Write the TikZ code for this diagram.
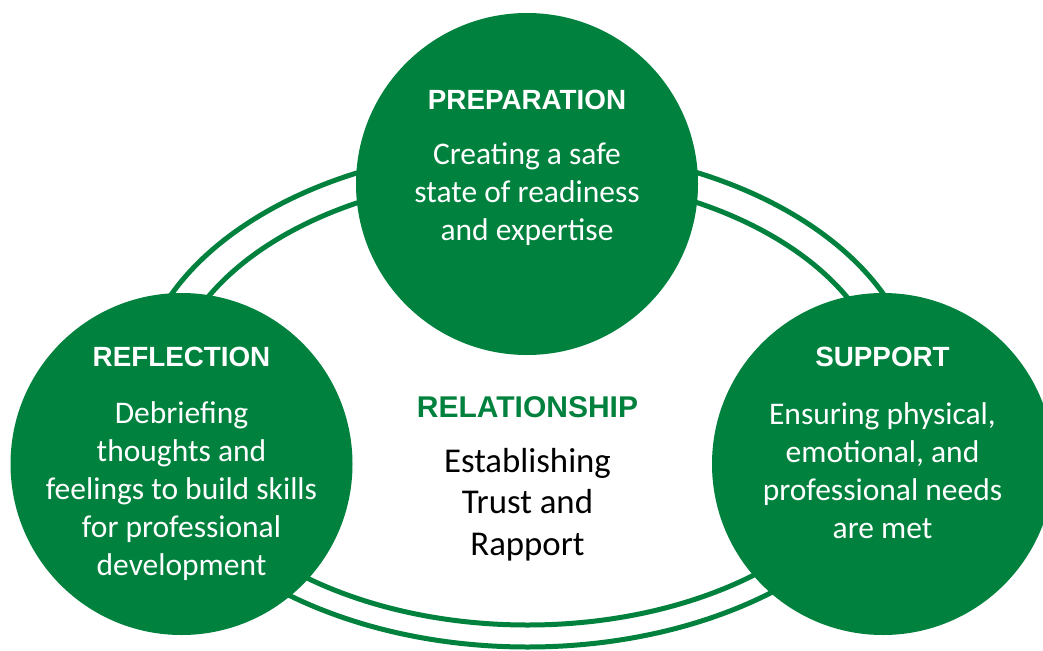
\documentclass[tikz,border=0pt]{standalone}
\usepackage{fontspec}
\setmainfont{Carlito}
\newfontfamily\titlefont{Liberation Sans}
\definecolor{ringgreen}{RGB}{0,130,62}
\begin{document}
\begin{tikzpicture}[x=1pt,y=-1pt,
  disc/.style={circle,fill=ringgreen,draw=none,minimum size=342pt,inner sep=0pt},
  ring/.style={draw=ringgreen,line width=5pt},
  title/.style={text=white,font=\titlefont\fontsize{27.8}{33}\selectfont\bfseries,anchor=base,inner sep=0pt},
  body/.style={text=white,font=\fontsize{31.5}{37.8}\selectfont,align=center,anchor=base,inner sep=0pt},
  ctitle/.style={text=ringgreen,font=\titlefont\fontsize{30}{35}\selectfont\bfseries,anchor=base,inner sep=0pt},
  cbody/.style={text=black,font=\fontsize{34.8}{41.5}\selectfont,align=center,anchor=base,inner sep=0pt}]
\useasboundingbox (0,0) rectangle (1043,650);
\fill[white] (0,0) rectangle (1043,650);
% ring
\draw[ring] (527.5,397.5) ellipse [x radius=391, y radius=249.5];
\draw[ring] (527.5,400.6) ellipse [x radius=360, y radius=224.4];
% discs
\node[disc] (prep) at (527,184) {};
\node[disc] (refl) at (181.5,464) {};
\node[disc] (supp) at (883,464) {};
% texts (base anchor = baseline of the last line)
\node[title] (preptitle) at (527,110) {PREPARATION};
\node[body] (preptext) at (527,240.5) {Creating a safe\\state of readiness\\and expertise};
\node[title] (refltitle) at (181.5,366) {REFLECTION};
\node[body] (refltext) at (181.5,575) {Debriefing\\thoughts and\\feelings to build skills\\for professional\\development};
\node[title] (supptitle) at (882.5,366) {SUPPORT};
\node[body] (supptext) at (882.5,538) {Ensuring physical,\\emotional, and\\professional needs\\are met};
\node[ctitle] (reltitle) at (527.5,417) {RELATIONSHIP};
\node[cbody] (reltext) at (527.5,555) {Establishing\\Trust and\\Rapport};
\end{tikzpicture}
\end{document}
